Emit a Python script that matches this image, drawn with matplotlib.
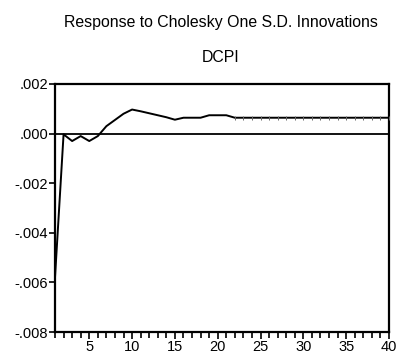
import matplotlib
matplotlib.use("Agg")
import matplotlib.pyplot as plt
import numpy as np

plt.rcParams['font.family'] = ['Liberation Sans', 'DejaVu Sans']

periods = list(range(1, 41))
response = [-0.0058, -0.00003, -0.0003, -0.0001, -0.0003, -0.0001, 0.0003, 0.00055, 0.0008, 0.00097,
            0.0009, 0.00082, 0.00074, 0.00066, 0.00056, 0.00064, 0.00064, 0.00064, 0.00074, 0.00074,
            0.00074] + [0.00064] * 19
ytick_vals = [-0.008, -0.006, -0.004, -0.002, 0.0, 0.002]
ytick_labels = ['-.008', '-.006', '-.004', '-.002', '.000', '.002']
xtick_major = [5, 10, 15, 20, 25, 30, 35, 40]
title1 = 'Response to Cholesky One S.D. Innovations'
title2 = 'DCPI'

fig = plt.figure(figsize=(3.98, 3.56), dpi=100)
ax = fig.add_axes([55/398, 24/356, 334/398, 248/356])

ax.axhline(0, color='black', lw=1.3, zorder=2)
ax.plot(periods, response, color='black', lw=1.4, zorder=3)
ax.plot(periods[21:], response[21:], ls='none', marker='|', ms=2.5, mew=0.7, color='#666666', zorder=4)

ax.set_xlim(1, 40)
ax.set_ylim(-0.008, 0.002)
ax.set_yticks(ytick_vals)
ax.set_yticklabels(ytick_labels)
ax.set_xticks(xtick_major)
ax.set_xticklabels([str(v) for v in xtick_major])
ax.set_xticks(periods, minor=True)
ax.tick_params(axis='x', which='major', direction='out', length=5, width=1.2, labelsize=10.5, pad=1)
ax.tick_params(axis='x', which='minor', direction='out', length=4, width=1.2)
ax.tick_params(axis='y', which='major', direction='out', length=4, width=1.2, labelsize=10.5, pad=1)
for s in ax.spines.values():
    s.set_linewidth(1.6)

fig.text(221/398, 1 - 23/356, title1, ha='center', va='center', fontsize=11.4)
fig.text(221/398, 1 - 57/356, title2, ha='center', va='center', fontsize=11.4)

fig.savefig('out.png', dpi=100)
